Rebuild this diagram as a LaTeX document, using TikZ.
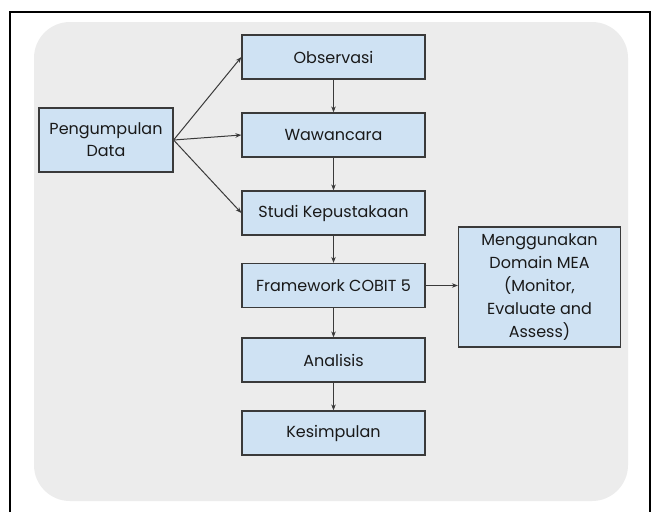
\documentclass[tikz,border=0pt]{standalone}
\usepackage{fontspec}
\setmainfont{Poppins}
\usetikzlibrary{arrows.meta}
\definecolor{boxfill}{HTML}{CFE2F3}
\definecolor{boxline}{HTML}{3A3A3A}
\definecolor{panel}{HTML}{ECECEC}
\tikzset{
  stepbox/.style={draw=boxline, line width=1.2pt, fill=boxfill, inner sep=0pt,
    minimum width=183pt, minimum height=44pt, align=center,
    font=\fontsize{16}{22}\selectfont, text=black!90},
  conn/.style={draw=boxline, line width=1pt, -{Stealth[length=6pt,width=4.5pt]}}
}
\begin{document}
\begin{tikzpicture}[x=1pt,y=-1pt]
\useasboundingbox (0,0) rectangle (656,512);
\fill[white] (0,0) rectangle (656,512);
\draw[black, line width=1.5pt] (10,512) -- (10,12) -- (650,12) -- (650,512);
\fill[panel, rounded corners=36pt] (34,22) rectangle (628,501);
\node[stepbox] (obs) at (333.5,57) {Observasi};
\node[stepbox] (waw) at (333.5,135) {Wawancara};
\node[stepbox] (stu) at (333.5,213) {Studi Kepustakaan};
\node[stepbox] (fw) at (333.5,285.5) {Framework COBIT 5};
\node[stepbox] (ana) at (333.5,360) {Analisis};
\node[stepbox] (kes) at (333.5,433) {Kesimpulan};
\node[stepbox, minimum width=134pt, minimum height=64pt] (pd) at (106,140) {Pengumpulan\\Data};
\node[stepbox, minimum width=162pt, minimum height=120pt, font=\fontsize{16}{23}\selectfont] (mea) at (539.5,287) {Menggunakan\\Domain MEA\\(Monitor,\\Evaluate and\\Assess)};
\draw[conn] (pd.east) -- (obs.west);
\draw[conn] (pd.east) -- (waw.west);
\draw[conn] (pd.east) -- (stu.west);
\draw[conn] (obs) -- (waw);
\draw[conn] (waw) -- (stu);
\draw[conn] (stu) -- (fw);
\draw[conn] (fw) -- (ana);
\draw[conn] (ana) -- (kes);
\draw[conn] (fw.east) -- (fw.east -| mea.west);
\end{tikzpicture}
\end{document}
